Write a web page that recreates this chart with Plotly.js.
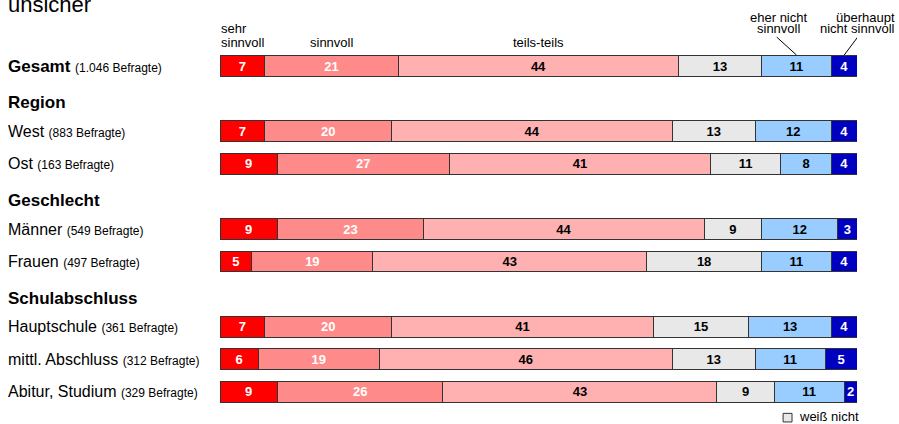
<!DOCTYPE html>
<html><head><meta charset="utf-8">
<script src="https://cdn.plot.ly/plotly-3.0.1.min.js"></script>
<style>body{margin:0;background:#fff}#c{width:899px;height:424px}</style>
</head><body><div id="c"></div>
<script>
// rows (headers have no data)
var rowKeys = ['Gesamt','Region','West','Ost','Geschlecht','Männer','Frauen','Schulabschluss','Hauptschule','mittl. Abschluss','Abitur, Studium'];
var rowCounts = ['1.046', null, '883', '163', null, '549', '497', null, '361', '312', '329'];
var isHeader = [false,true,false,false,true,false,false,true,false,false,false];

var seriesNames = ['sehr sinnvoll','sinnvoll','teils-teils','weiß nicht','eher nicht sinnvoll','überhaupt nicht sinnvoll'];
var sehrSinnvoll   = [7, null, 7, 9, null, 9, 5, null, 7, 6, 9];
var sinnvoll       = [21, null, 20, 27, null, 23, 19, null, 20, 19, 26];
var teilsTeils     = [44, null, 44, 41, null, 44, 43, null, 41, 46, 43];
var weissNicht     = [13, null, 13, 11, null, 9, 18, null, 15, 13, 9];
var eherNicht      = [11, null, 12, 8, null, 12, 11, null, 13, 11, 11];
var ueberhauptNicht= [4, null, 4, 4, null, 3, 4, null, 4, 5, 2];
var allSeries = [sehrSinnvoll, sinnvoll, teilsTeils, weissNicht, eherNicht, ueberhauptNicht];

var colors = ['#FF0000','#FF8A8A','#FFB0B0','#E8E8E8','#99CCFF','#0000C0'];
var textColors = ['#FFFFFF','#FFFFFF','#000000','#000000','#000000','#FFFFFF'];
var FONT = 'Liberation Sans, Arial, sans-serif';

var traces = allSeries.map(function(vals, i){
  return {
    type:'bar', orientation:'h', name: seriesNames[i],
    y: rowKeys, x: vals,
    text: vals.map(function(v){return v==null?'':'<b>'+v+'</b>';}),
    textposition:'inside', insidetextanchor:'middle', constraintext:'none', textangle:0,
    textfont:{family:FONT, size:13, color:textColors[i]},
    marker:{color:colors[i], line:{color:'#333333', width:1}},
    width:0.64, hoverinfo:'none', showlegend:false, cliponaxis:false
  };
});

var annotations = [];
rowKeys.forEach(function(k, i){
  var t = isHeader[i] || i===0 ? '<b>'+k+'</b>' : k;
  var fs = isHeader[i] || i===0 ? 17 : 16;
  if (rowCounts[i]) t += ' <span style="font-size:12px">('+rowCounts[i]+' Befragte)</span>';
  annotations.push({
    xref:'paper', yref:'y', x:-0.336, xanchor:'left', y:k, yanchor:'middle',
    yshift: isHeader[i] ? -4 : 0,
    text: t, showarrow:false,
    font:{family:FONT, size:fs, color:'#000'}
  });
});

// top category labels positioned from Gesamt segment centres
var cum = 0, centers = [], lefts = [];
allSeries.forEach(function(s){ lefts.push(cum); centers.push(cum + s[0]/2); cum += s[0]; });
var lf = {family:FONT, size:13, color:'#000'};
function lab(x, xref, xanchor, y, text){
  annotations.push({xref:xref, yref:'paper', x:x, xanchor:xanchor, y:y, yanchor:'middle', text:text, showarrow:false, font:lf, borderpad:0});
}
lab(lefts[0], 'x', 'left', 1.0587, 'sehr');
lab(lefts[0], 'x', 'left', 1.0196, 'sinnvoll');
lab(centers[1], 'x', 'center', 1.0196, 'sinnvoll');
lab(centers[2], 'x', 'center', 1.0196, 'teils-teils');
lab(centers[4]-2.8, 'x', 'center', 1.092, 'eher nicht');
lab(centers[4]-2.8, 'x', 'center', 1.0587, 'sinnvoll');
lab(1.061, 'paper', 'right', 1.092, 'überhaupt');
lab(1.061, 'paper', 'right', 1.0587, 'nicht sinnvoll');
// legend for weiß nicht
annotations.push({xref:'paper', yref:'paper', x:1.005, xanchor:'right', y:-0.025, yanchor:'middle', text:'weiß nicht', showarrow:false, font:lf, borderpad:0});
// title fragment
annotations.push({xref:'paper', yref:'paper', x:-0.336, xanchor:'left', y:1.1277, yanchor:'middle', text:'unsicher', showarrow:false, font:{family:FONT, size:22, color:'#000'}});

var layout = {
  width:899, height:424,
  margin:{l:220, r:42, t:50, b:16},
  barmode:'stack', bargap:0,
  paper_bgcolor:'#fff', plot_bgcolor:'#fff',
  xaxis:{range:[0,100], visible:false, fixedrange:true},
  yaxis:{type:'category', categoryarray:rowKeys, categoryorder:'array', autorange:'reversed', showticklabels:false, showgrid:false, zeroline:false, showline:false, ticks:''},
  annotations: annotations,
  shapes:[
    {type:'line', xref:'x', yref:'paper', x0:centers[4], y0:0.986, x1:centers[4]-3.1, y1:1.036, line:{color:'#000', width:1}},
    {type:'line', xref:'x', yref:'paper', x0:centers[5], y0:0.986, x1:centers[5]+2.1, y1:1.036, line:{color:'#000', width:1}},
    {type:'rect', xref:'paper', yref:'paper', x0:0.884, x1:0.898, y0:-0.015, y1:-0.039, line:{color:'#333', width:1}, fillcolor:'#E8E8E8'}
  ],
  font:{family:FONT}
};
Plotly.newPlot('c', traces, layout, {displayModeBar:false, staticPlot:true});
</script></body></html>
